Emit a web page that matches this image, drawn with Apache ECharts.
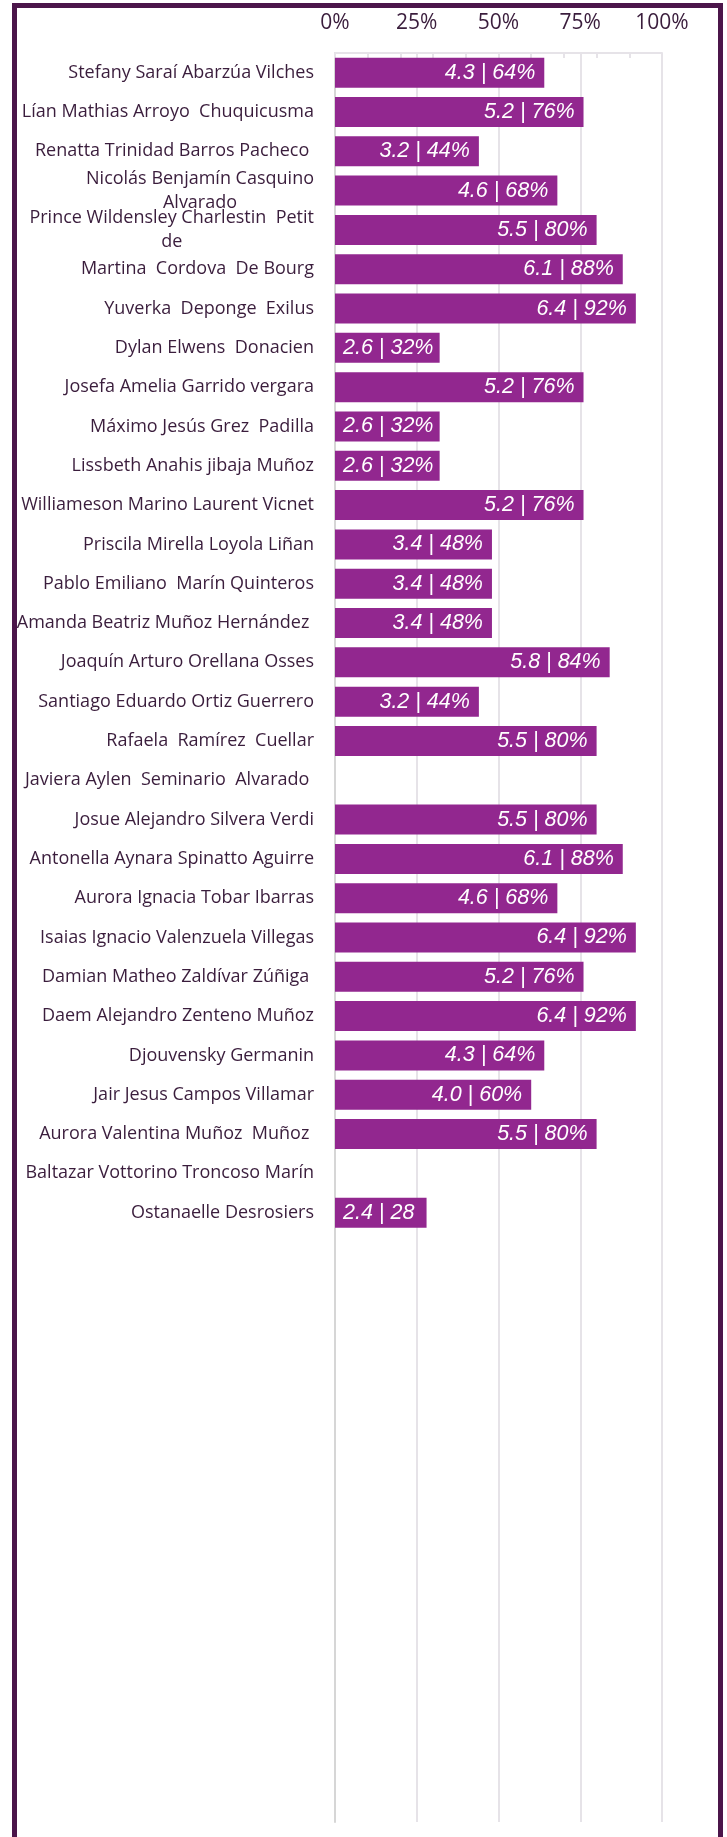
<!DOCTYPE html>
<html>
<head>
<meta charset="utf-8">
<script src="https://cdn.jsdelivr.net/npm/echarts@6/dist/echarts.min.js"></script>
<style>
  html, body { margin: 0; padding: 0; background: #fff; }
  .wrap { position: relative; width: 727px; height: 1837px; overflow: hidden; }
  .frame {
    position: absolute; left: 12px; top: 3px; width: 701px; height: 1900px;
    border: 5px solid #4b154a; box-sizing: content-box;
  }
  #chart { position: absolute; left: 0; top: 0; width: 727px; height: 1837px; }
</style>
</head>
<body>
<div class="wrap">
  <div class="frame"></div>
  <div id="chart"></div>
</div>
<script>
  // alumnos (orden del gráfico, de arriba hacia abajo)
  const names = [
    'Stefany Saraí Abarzúa Vilches',
    'Lían Mathias Arroyo  Chuquicusma',
    'Renatta Trinidad Barros Pacheco ',
    'Nicolás Benjamín Casquino\nAlvarado',
    'Prince Wildensley Charlestin  Petit\nde',
    'Martina  Cordova  De Bourg',
    'Yuverka  Deponge  Exilus',
    'Dylan Elwens  Donacien',
    'Josefa Amelia Garrido vergara',
    'Máximo Jesús Grez  Padilla',
    'Lissbeth Anahis jibaja Muñoz',
    'Williameson Marino Laurent Vicnet',
    'Priscila Mirella Loyola Liñan',
    'Pablo Emiliano  Marín Quinteros',
    'Amanda Beatriz Muñoz Hernández ',
    'Joaquín Arturo Orellana Osses',
    'Santiago Eduardo Ortiz Guerrero',
    'Rafaela  Ramírez  Cuellar',
    'Javiera Aylen  Seminario  Alvarado ',
    'Josue Alejandro Silvera Verdi',
    'Antonella Aynara Spinatto Aguirre',
    'Aurora Ignacia Tobar Ibarras',
    'Isaias Ignacio Valenzuela Villegas',
    'Damian Matheo Zaldívar Zúñiga ',
    'Daem Alejandro Zenteno Muñoz',
    'Djouvensky Germanin',
    'Jair Jesus Campos Villamar',
    'Aurora Valentina Muñoz  Muñoz ',
    'Baltazar Vottorino Troncoso Marín',
    'Ostanaelle Desrosiers'
  ]
  // nota
  const grades = [4.3, 5.2, 3.2, 4.6, 5.5, 6.1, 6.4, 2.6, 5.2, 2.6, 2.6, 5.2, 3.4, 3.4, 3.4,
    5.8, 3.2, 5.5, null, 5.5, 6.1, 4.6, 6.4, 5.2, 6.4, 4.3, 4.0, 5.5, null, 2.4]
  // porcentaje de logro
  const percents = [64, 76, 44, 68, 80, 88, 92, 32, 76, 32, 32, 76, 48, 48, 48,
    84, 44, 80, null, 80, 88, 68, 92, 76, 92, 64, 60, 80, null, 28]

  const emptyRows = 15
  const axisNames = names.concat(new Array(emptyRows).fill(''))

  const textColor = '#3a1d3c'
  const barColor = '#92278f'
  const gridColor = '#e6e3e8'
  const nameFont = 'Open Sans'

  const barData = percents.map((p) => {
    if (p === null) return null
    const item = { value: p }
    if (p < 35) {
      // etiqueta que no cabe: se alinea a la izquierda y se recorta en el borde de la barra
      item.label = {
        position: 'insideLeft',
        distance: 8,
        width: p * 3.27 - 4,
        overflow: 'truncate',
        ellipsis: ''
      }
    }
    return item
  })

  const chart = echarts.init(document.getElementById('chart'), null, { renderer: 'canvas' })
  chart.setOption({
    animation: false,
    grid: { left: 335, right: 65, top: 53, bottom: 15, containLabel: false },
    xAxis: [
      {
        type: 'value',
        position: 'top',
        min: 0,
        max: 100,
        interval: 25,
        axisLine: { show: false },
        axisTick: { show: false },
        axisLabel: {
          formatter: v => v + '%',
          color: textColor,
          fontFamily: nameFont,
          fontSize: 21,
          margin: 19
        },
        splitLine: { show: true, lineStyle: { color: gridColor, width: 2 } }
      },
      {
        // marcas menores cada 10%
        type: 'value',
        position: 'top',
        min: 0,
        max: 100,
        interval: 10,
        axisLine: { show: true, lineStyle: { color: gridColor, width: 2 } },
        axisTick: { show: true, inside: true, length: 5, lineStyle: { color: gridColor, width: 2 } },
        axisLabel: { show: false },
        splitLine: { show: false }
      }
    ],
    yAxis: {
      type: 'category',
      inverse: true,
      data: axisNames,
      axisLine: { show: true, lineStyle: { color: '#d6d6d6', width: 2 } },
      axisTick: { show: false },
      axisLabel: {
        interval: 0,
        margin: 21,
        color: textColor,
        fontFamily: nameFont,
        fontSize: 18,
        lineHeight: 24,
        formatter: function (value) {
          if (value.indexOf('\n') < 0) return value
          return value.split('\n').map(s => '{c|' + s + '}').join('\n')
        },
        rich: {
          c: { align: 'center', color: textColor, fontFamily: nameFont, fontSize: 18, lineHeight: 24 }
        }
      }
    },
    series: [
      {
        type: 'bar',
        xAxisIndex: 0,
        data: barData,
        barWidth: 30,
        itemStyle: { color: barColor },
        label: {
          show: true,
          position: 'insideRight',
          distance: 9,
          color: '#fff',
          fontStyle: 'italic',
          fontFamily: 'Liberation Sans',
          fontSize: 21.5,
          formatter: p => grades[p.dataIndex].toFixed(1) + ' | ' + p.value + '%'
        }
      }
    ]
  })
</script>
</body>
</html>
